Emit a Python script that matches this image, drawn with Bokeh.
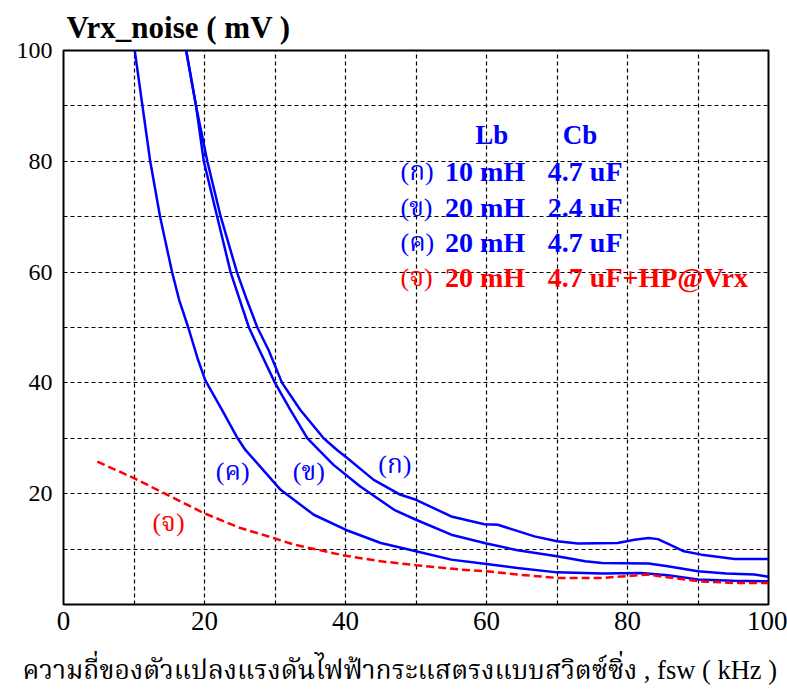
from bokeh.plotting import figure
from bokeh.models import Range1d, FixedTicker, ColumnDataSource, Title
from bokeh.core.properties import value
from bokeh.embed import file_html
from bokeh.resources import INLINE

# ---- data ----
# (ก) Lb=10 mH, Cb=4.7 uF
a_x = [17.4, 18.8, 20.4, 22.3, 24.6, 26.0, 27.5, 29.1, 31.0, 33.6, 36.9, 38.8, 40.2, 44.0, 47.8, 50.0,
       55.0, 59.7, 61.6, 66.8, 70.0, 73.0, 78.6, 81.0, 83.0, 84.3, 85.7, 88.0, 90.5, 95.2, 100.0]
a_y = [100, 90, 80, 70, 60, 55, 50, 45.9, 40, 35.1, 30, 27.9, 26.5, 22.5, 19.8, 18.9,
       15.9, 14.5, 14.4, 12.3, 11.4, 11.0, 11.1, 11.7, 12.0, 11.8, 11.0, 9.6, 9.0, 8.2, 8.2]
# (ข) Lb=20 mH, Cb=2.4 uF
b_x = [17.4, 18.8, 19.9, 21.8, 23.7, 25.0, 26.3, 27.8, 30.0, 32.2, 34.6, 36.2, 38.3, 42.1, 46.9, 50.0,
       55.0, 60.0, 64.4, 70.0, 74.0, 76.4, 83.0, 85.7, 90.0, 94.0, 98.0, 100.0]
b_y = [100, 90, 80, 70, 60, 55, 50, 45.9, 40, 35.1, 30, 27.9, 25.2, 21.3, 17.1, 15.3,
       12.6, 11.0, 9.8, 8.7, 7.8, 7.5, 7.4, 6.9, 6.0, 5.6, 5.4, 5.0]
# (ค) Lb=20 mH, Cb=4.7 uF
c_x = [10.1, 11.2, 12.3, 13.7, 15.4, 16.4, 17.7, 19.0, 20.1, 22.5, 24.7, 25.8, 27.9, 30.8, 35.5, 40.0,
       45.0, 50.0, 55.0, 60.0, 64.4, 70.0, 76.4, 82.0, 85.7, 90.0, 95.0, 100.0]
c_y = [100, 90, 80, 70, 60, 55, 50, 44.5, 40.5, 35.1, 30, 27.9, 24.9, 20.7, 16.2, 13.5,
       11.1, 9.6, 8.1, 7.3, 6.6, 5.8, 5.6, 5.7, 5.3, 4.5, 4.3, 4.2]
# (จ) Lb=20 mH, Cb=4.7 uF + HP@Vrx
d_x = [4.8, 10.0, 15.2, 19.9, 25.1, 29.8, 32.7, 40.0, 45.0, 50.0, 56.3,
       60.0, 64.4, 70.0, 76.4, 83.0, 85.7, 90.0, 95.0, 100.0]
d_y = [25.8, 22.8, 19.5, 16.5, 13.8, 12.0, 10.8, 8.8, 7.8, 7.1, 6.3,
       6.0, 5.4, 4.8, 4.8, 5.4, 4.9, 4.2, 3.9, 3.9]

x_ticks = [0, 20, 40, 60, 80, 100]
y_ticks = [20, 40, 60, 80, 100]
grid_ticks = [10, 20, 30, 40, 50, 60, 70, 80, 90]

curve_tags = ["(ค)", "(ข)", "(ก)", "(จ)"]
curve_tag_x = [24.0, 34.8, 47.0, 14.9]
curve_tag_y = [24.0, 24.0, 25.2, 14.8]

legend_head = ["Lb", "Cb"]
legend_head_x = [58.4, 70.8]
legend_tags = ["(ก)", "(ข)", "(ค)", "(จ)"]
legend_lb = ["10 mH", "20 mH", "20 mH", "20 mH"]
legend_cb = ["4.7 uF", "2.4 uF", "4.7 uF", "4.7 uF+HP@Vrx"]
legend_y = [78.2, 71.7, 65.4, 59.1]

BLUE = "#0000FF"
RED = "#FF0000"
SERIF = "Liberation Serif, Noto Serif Thai, Norasi, Tlwg Typo, serif"

p = figure(width=787, height=689, x_range=Range1d(0, 100), y_range=Range1d(0, 100),
           output_backend="svg", toolbar_location=None,
           min_border_left=63, min_border_right=19, min_border_top=50, min_border_bottom=84)
p.background_fill_color = "white"
p.border_fill_color = "white"
p.outline_line_color = "black"
p.outline_line_width = 2

p.title.text = "Vrx_noise ( mV )"
p.title.text_font = SERIF
p.title.text_font_size = "31px"
p.title.text_font_style = "bold"
p.title.text_color = "black"
p.title.align = "left"
p.title.offset = 3
p.title.vertical_align = "middle"

for ax in (p.xaxis[0], p.yaxis[0]):
    ax.axis_line_color = None
    ax.major_tick_line_color = None
    ax.minor_tick_line_color = None
    ax.major_label_text_font = SERIF
    ax.major_label_text_color = "black"

p.xaxis.ticker = FixedTicker(ticks=x_ticks)
p.yaxis.ticker = FixedTicker(ticks=y_ticks)
p.xaxis.major_label_text_font_size = "27px"
p.yaxis.major_label_text_font_size = "24px"
p.xaxis.major_label_standoff = 1
p.yaxis.major_label_standoff = 5

# small empty spacer between the tick labels and the axis title
spacer = Title(text=" ", text_font_size="3px")
p.add_layout(spacer, "below")
xlabel = Title(text="ความถี่ของตัวแปลงแรงดันไฟฟ้ากระแสตรงแบบสวิตซ์ซิ่ง , fsw ( kHz )",
               text_font=SERIF, text_font_size="26.5px", text_font_style="normal",
               text_color="black", align="left", offset=-41)
p.add_layout(xlabel, "below")

for g in (p.xgrid[0], p.ygrid[0]):
    g.ticker = FixedTicker(ticks=grid_ticks)
    g.grid_line_color = "black"
    g.grid_line_dash = "4 3"
    g.grid_line_width = 1.2

p.line(a_x, a_y, line_color=BLUE, line_width=2.5)
p.line(b_x, b_y, line_color=BLUE, line_width=2.5)
p.line(c_x, c_y, line_color=BLUE, line_width=2.5)
p.line(d_x, d_y, line_color=RED, line_width=2.5, line_dash="8 4")

src_tags = ColumnDataSource(dict(x=curve_tag_x, y=curve_tag_y, t=curve_tags,
                                 c=[BLUE, BLUE, BLUE, RED]))
p.text(x="x", y="y", text="t", text_color="c", source=src_tags, text_font=value(SERIF),
       text_font_size="26px", text_align="center", text_baseline="middle")

# legend block
leg_col = [BLUE, BLUE, BLUE, RED]
p.text(x=legend_head_x, y=[84.7, 84.7], text=legend_head, text_color=BLUE, text_font=value(SERIF),
       text_font_size="27px", text_font_style="bold", text_baseline="middle")
p.text(x=[47.8] * 4, y=legend_y, text=legend_tags, text_color=leg_col, text_font=value(SERIF),
       text_font_size="26px", text_baseline="middle")
p.text(x=[54.1] * 4, y=legend_y, text=legend_lb, text_color=leg_col, text_font=value(SERIF),
       text_font_size="28px", text_font_style="bold", text_baseline="middle")
p.text(x=[68.7] * 4, y=legend_y, text=legend_cb, text_color=leg_col, text_font=value(SERIF),
       text_font_size="28px", text_font_style="bold", text_baseline="middle")

open("out.html", "w").write(file_html(p, INLINE))
